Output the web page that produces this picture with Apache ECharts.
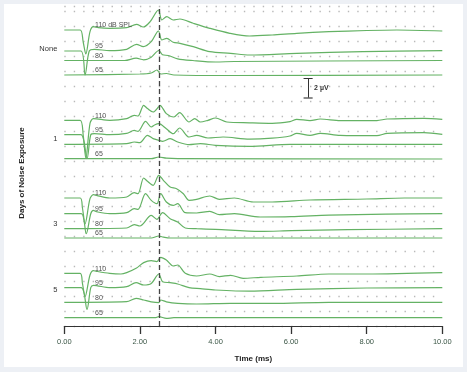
<!DOCTYPE html>
<html>
<head>
<meta charset="utf-8">
<script src="https://cdn.jsdelivr.net/npm/echarts@6/dist/echarts.min.js"></script>
<style>
html,body{margin:0;padding:0;background:#edf0f5;}
#c{width:467px;height:372px;}
</style>
</head>
<body>
<div id="c"></div>
<script>
// ---- data ----
const groups = ["None", "1", "3", "5"];
const levels = ["110", "95", "80", "65"];
const xTicks = [0, 2, 4, 6, 8, 10];
const markerTime = 2.5;          // dashed reference line (ms)
const scaleBarUV = 2;            // scale bar (µV)

// stacking offsets (µV) per group, per level
const offNone = [29.6, 27.5, 26.55, 25.1];
const off1    = [20.57, 19.13, 18.17, 16.73];
const off3    = [12.8, 11.23, 9.73, 8.8];
const off5    = [5.27, 3.83, 2.37, 0.83];

// waveforms: [time ms, µV]
const none110 = [[0,0],[0.42,0],[0.5,-1.2],[0.57,-2.4],[0.68,-0.17],[0.77,0.33],[0.9,0.23],[1.2,0.17],[1.65,0.23],[1.91,0.57],[2.09,0.3],[2.27,0.83],[2.49,2.0],[2.58,1.0],[2.71,1.33],[2.88,1.0],[3.06,1.1],[3.41,0.67],[3.85,0.17],[4.38,-0.33],[4.9,-0.6],[5.5,-0.5],[6.15,-0.33],[7.0,-0.17],[8.0,-0.05],[8.8,0],[10,-0.1]];
const none95  = [[0,0],[0.44,0],[0.55,-2.4],[0.66,0],[0.8,0.17],[1.2,0.03],[1.65,0.17],[1.91,0.67],[2.09,0.43],[2.3,0.93],[2.49,2.0],[2.58,1.1],[2.71,1.27],[2.88,0.87],[3.06,0.77],[3.41,0.43],[3.85,-0.07],[4.4,-0.23],[4.9,-0.4],[6.15,-0.23],[7.9,-0.07],[10,0.03]];
const none80  = [[0,0],[1.6,0],[1.9,0.23],[2.1,0.07],[2.3,0.33],[2.5,1.0],[2.6,0.57],[2.75,0.5],[3.0,0.17],[3.4,0],[4.0,-0.15],[4.5,-0.1],[10,0]];
const none65  = [[0,0],[2.0,0.1],[2.3,0.2],[2.45,0.5],[2.55,0.1],[2.7,0.15],[2.9,0],[4.4,-0.05],[10,0]];

const g1_110 = [[0,0],[0.42,0],[0.5,-1.5],[0.57,-3.8],[0.68,-0.3],[0.77,0.17],[1.2,0],[1.65,0.17],[1.85,0.5],[1.95,0.43],[2.1,1.5],[2.2,1.17],[2.35,0.83],[2.49,1.33],[2.53,1.5],[2.7,0.67],[2.9,0.33],[3.05,0.77],[3.3,-0.17],[3.45,0.17],[3.6,-0.17],[3.8,0],[4.0,0.23],[4.3,-0.17],[4.9,-0.25],[5.5,-0.3],[5.97,-0.13],[6.15,0.1],[6.5,-0.03],[6.77,0.13],[7.3,-0.03],[8.27,-0.03],[8.54,0.13],[9.51,0.2],[10,0.1]];
const g1_95  = [[0,0],[0.44,0],[0.6,-2.4],[0.7,0],[0.8,0.1],[1.2,0],[1.65,0.13],[1.85,0.43],[1.95,0.33],[2.15,1.33],[2.3,0.77],[2.4,1.0],[2.5,1.1],[2.7,0.6],[2.88,0.1],[3.05,0.67],[3.3,-0.23],[3.5,-0.07],[3.8,-0.33],[4.2,-0.23],[4.9,-0.45],[5.5,-0.35],[5.97,-0.13],[6.15,0.13],[6.5,-0.07],[6.77,0.13],[7.3,-0.07],[8.27,-0.1],[8.54,0.13],[9.51,0.2],[10,0.03]];
const g1_80  = [[0,0],[1.65,0.07],[1.85,0.23],[2.0,0.17],[2.2,0.9],[2.35,0.57],[2.5,0.4],[2.6,0.3],[2.8,0.57],[3.0,0.23],[3.3,-0.03],[3.6,0.07],[4.0,-0.1],[4.9,-0.2],[5.97,0],[10,0]];
const g1_65  = [[0,0],[2.3,0],[2.5,0.17],[2.7,0.05],[3.0,0],[10,-0.03]];

const g3_110 = [[0,0],[0.42,0],[0.48,-1.0],[0.55,-2.57],[0.68,-0.07],[0.77,0.33],[0.85,0.27],[1.2,0],[1.65,0.1],[1.85,0.53],[1.95,0.43],[2.1,2.0],[2.2,1.67],[2.35,1.27],[2.5,2.27],[2.62,1.77],[2.8,1.1],[2.97,0.93],[3.15,0.43],[3.3,-0.23],[3.5,-0.13],[3.85,0.2],[4.1,-0.13],[4.5,0],[5.0,-0.4],[5.5,-0.4],[6.5,-0.2],[8,-0.1],[9,0],[10,0]];
const g3_95  = [[0,0],[0.45,0],[0.58,-2.0],[0.7,0],[0.77,0.33],[0.85,0.2],[1.2,0],[1.65,0.1],[1.85,0.5],[1.95,0.43],[2.15,2.0],[2.3,1.33],[2.45,1.0],[2.55,2.0],[2.7,1.17],[2.88,0.83],[3.0,1.0],[3.2,0.1],[3.5,0.07],[3.85,0.23],[4.1,-0.1],[4.5,0],[5.18,-0.33],[6,-0.3],[7,-0.15],[8.5,-0.05],[10,0]];
const g3_80  = [[0,0],[1.65,0.07],[1.85,0.4],[2.0,0.27],[2.3,1.33],[2.45,0.93],[2.6,1.6],[2.8,1.0],[3.0,0.67],[3.2,0.07],[3.5,0],[4.0,-0.07],[5.18,-0.27],[6,-0.2],[7.5,-0.1],[10,0]];
const g3_65  = [[0,0],[2.3,0],[2.5,0.2],[2.6,0.1],[2.8,0],[10,0]];

const g5_110 = [[0,0],[0.42,0],[0.48,-1.0],[0.55,-2.33],[0.68,-0.17],[0.77,0.27],[0.85,0.2],[1.2,0],[1.5,-0.07],[1.65,0.07],[1.9,0.5],[2.1,1.07],[2.3,1.27],[2.45,1.17],[2.55,1.6],[2.7,1.33],[2.88,0.73],[3.0,0.83],[3.2,0],[3.5,-0.27],[3.85,-0.07],[4.1,-0.33],[4.4,-0.2],[4.73,-0.5],[5.2,-0.4],[6.15,-0.27],[7.0,-0.07],[8.0,-0.07],[10,0.07]];
const g5_95  = [[0,0],[0.45,0],[0.6,-2.17],[0.7,0],[0.77,0.23],[1.2,0],[1.65,0.1],[1.9,0.5],[2.1,0.27],[2.3,0.43],[2.5,1.37],[2.6,0.6],[2.8,0.5],[3.0,0.37],[3.3,0],[3.6,-0.1],[4.0,-0.23],[4.9,-0.35],[6.15,-0.17],[8,-0.03],[10,0]];
const g5_80  = [[0,0],[1.65,0.07],[1.9,0.4],[2.1,0.23],[2.3,0.05],[2.5,-0.03],[2.55,0.23],[2.7,0.05],[3.0,-0.1],[3.5,-0.17],[4.4,-0.1],[5.5,-0.1],[7,0],[10,0]];
const g5_65  = [[0,0],[2.4,0],[2.5,0.1],[2.7,-0.07],[2.9,0],[10,0]];

// ---- build ----
const waves = [
  [none110, none95, none80, none65],
  [g1_110, g1_95, g1_80, g1_65],
  [g3_110, g3_95, g3_80, g3_65],
  [g5_110, g5_95, g5_80, g5_65]
];
const offsets = [offNone, off1, off3, off5];
const GREEN = '#64b264';
const FONT = '"Liberation Sans", Arial, sans-serif';

const series = [];
const labelPts = [];
waves.forEach((gw, gi) => {
  gw.forEach((w, li) => {
    const off = offsets[gi][li];
    series.push({
      type: 'line',
      name: groups[gi] + ' ' + levels[li],
      data: w.map(p => [p[0], off + p[1]]),
      showSymbol: false,
      smooth: 0.3,
      lineStyle: { color: GREEN, width: 1.2 },
      z: 3,
      silent: true
    });
    const txt = (gi === 0 && li === 0) ? levels[li] + ' dB SPL' : levels[li];
    labelPts.push([0.8, off + 0.45, txt]);
  });
});

// labels series
series.push({
  type: 'scatter',
  data: labelPts,
  symbolSize: 1,
  itemStyle: { color: 'rgba(0,0,0,0)' },
  label: {
    show: true, position: 'right', distance: 0,
    formatter: p => p.data[2],
    fontSize: 7, color: '#222', fontFamily: FONT
  },
  z: 4, silent: true
});

// dashed marker + scale bar
const sbX = 6.45, sbTop = 24.8, sbBot = sbTop - scaleBarUV, cap = 0.12;
series.push({
  type: 'line', data: [], silent: true,
  markLine: {
    silent: true, symbol: ['none', 'none'], animation: false,
    label: { show: false },
    data: [
      [{ coord: [markerTime, 0], lineStyle: { color: '#444', width: 1.3, type: [5, 3] } },
       { coord: [markerTime, 31.7] }],
      [{ coord: [sbX, sbBot], lineStyle: { color: '#333', width: 1, type: 'solid' } }, { coord: [sbX, sbTop] }],
      [{ coord: [sbX - cap, sbTop], lineStyle: { color: '#333', width: 1, type: 'solid' } }, { coord: [sbX + cap, sbTop] }],
      [{ coord: [sbX - cap, sbBot], lineStyle: { color: '#666', width: 1.5, type: 'solid' } }, { coord: [sbX + cap, sbBot] }]
    ]
  }
});

const chart = echarts.init(document.getElementById('c'), null, { renderer: 'canvas' });
const option = {
  animation: false,
  backgroundColor: 'transparent',
  grid: { left: 64.3, right: 24.7, top: 6, bottom: 46, containLabel: false },
  xAxis: {
    type: 'value', min: 0, max: 10, interval: 2,
    axisLine: { show: true, lineStyle: { color: '#333', width: 1 } },
    axisTick: { show: true, length: 8, lineStyle: { color: '#333', width: 1.3 } },
    axisLabel: { margin: 12, fontSize: 7.5, color: '#3b5646', fontFamily: FONT,
                 formatter: v => v.toFixed(2) },
    splitLine: { show: false },
    name: 'Time (ms)', nameLocation: 'middle', nameGap: 29,
    nameTextStyle: { fontSize: 8, fontWeight: 'bold', color: '#222', fontFamily: FONT }
  },
  yAxis: {
    type: 'value', min: 0, max: 32, interval: 1.5,
    axisLine: { show: false }, axisTick: { show: false }, axisLabel: { show: false },
    splitLine: { show: true, lineStyle: { color: '#b9b9b9', width: 1.4, type: [1.4, 8.05] } }
  },
  graphic: { elements: [
    { type: 'rect', z: -100, silent: true, shape: { x: 4, y: 4, width: 459, height: 363 }, style: { fill: '#ffffff' } }
  ] },
  series: series
};
chart.setOption(option);

// group labels & titles placed through the axis scales
const groupLabelY = [27.7, 18.7, 10.2, 3.6];
const els = option.graphic.elements.slice();
groupLabelY.forEach((y, i) => {
  const p = chart.convertToPixel({ gridIndex: 0 }, [0, y]);
  els.push({ type: 'text', x: p[0] - 7, y: p[1], silent: true,
    style: { text: groups[i], align: 'right', verticalAlign: 'middle', fill: '#333',
             font: '7.5px ' + FONT } });
});
const sp = chart.convertToPixel({ gridIndex: 0 }, [sbX, (sbTop + sbBot) / 2]);
els.push({ type: 'text', x: sp[0] + 6, y: sp[1], silent: true,
  style: { text: scaleBarUV + ' µV', align: 'left', verticalAlign: 'middle', fill: '#333',
           font: 'bold 7px ' + FONT } });
const mid = chart.convertToPixel({ gridIndex: 0 }, [0, 15.3]);
els.push({ type: 'text', x: 22, y: mid[1], rotation: Math.PI / 2, silent: true,
  style: { text: 'Days of Noise Exposure', align: 'center', verticalAlign: 'middle', fill: '#222',
           font: 'bold 8px ' + FONT } });
chart.setOption({ graphic: { elements: els } }, { replaceMerge: ['graphic'] });
</script>
</body>
</html>
